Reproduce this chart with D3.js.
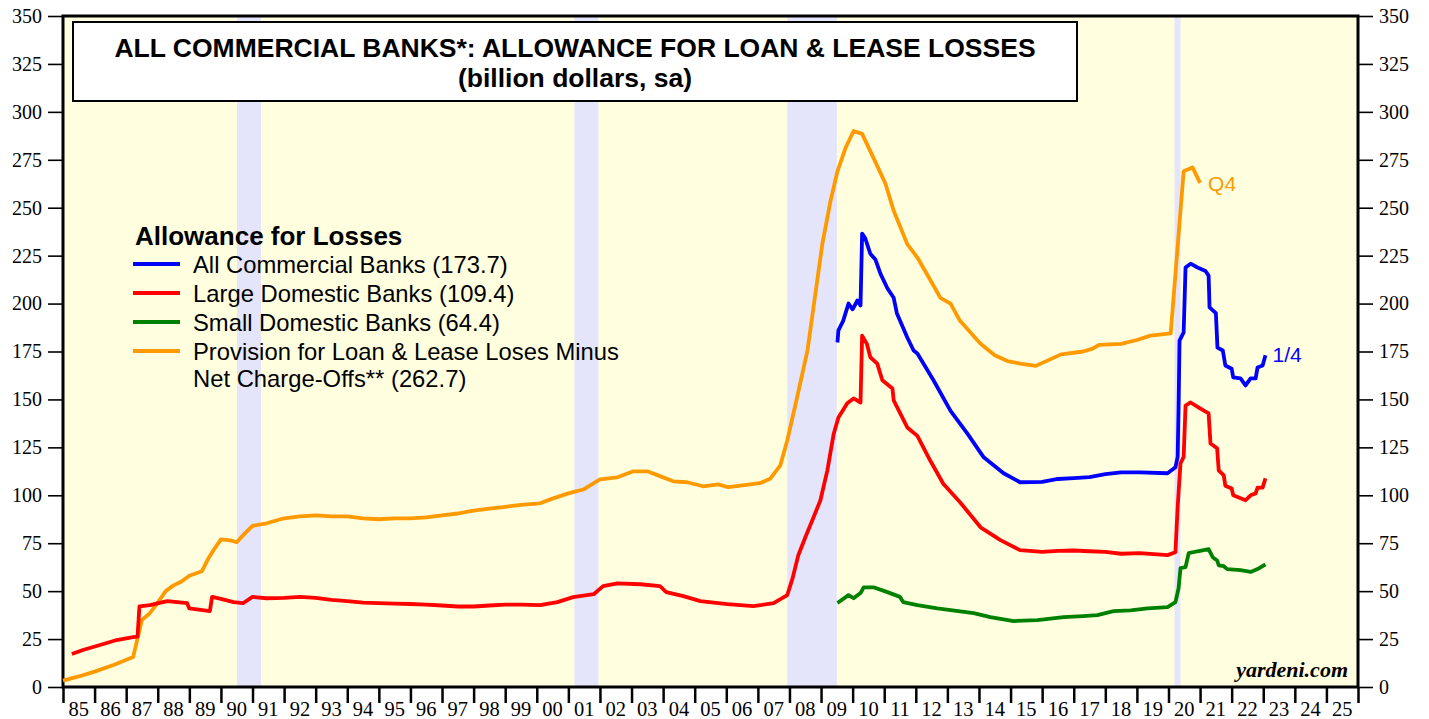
<!DOCTYPE html>
<html>
<head>
<meta charset="utf-8">
<script src="https://cdn.jsdelivr.net/npm/d3@7"></script>
<style>
  body { margin: 0; background: #fff; }
  svg { display: block; }
</style>
</head>
<body>
<svg></svg>
<script>
// data, [decimal year, billion $]
const provision = [[1985.0,3.3],[1985.5,5.5],[1986.0,8],[1986.6,11.5],[1987.22,15.6],[1987.5,35],[1987.75,38.5],[1988.0,44],[1988.25,50],[1988.5,53],[1988.75,55],[1989.0,58],[1989.4,60.4],[1989.6,67],[1989.75,71],[1990.0,77],[1990.3,76.5],[1990.5,75.5],[1990.75,80],[1991.0,84],[1991.45,85.4],[1992.0,88],[1992.5,89],[1993.0,89.5],[1993.5,89],[1994.0,89],[1994.5,88],[1995.0,87.5],[1995.5,88],[1996.0,88],[1996.5,88.5],[1997.0,89.5],[1997.5,90.5],[1998.0,92],[1998.5,93],[1999.0,94],[1999.5,95],[2000.1,95.8],[2000.52,98.4],[2001.0,101],[2001.47,103],[2002.0,108.3],[2002.55,109.4],[2003.06,112.5],[2003.5,112.5],[2003.9,110],[2004.32,107.3],[2004.76,106.8],[2005.27,104.7],[2005.75,105.7],[2006.06,104.2],[2006.76,105.7],[2007.1,106.5],[2007.4,108.8],[2007.71,115.6],[2007.93,128.6],[2008.2,148],[2008.57,175.5],[2008.76,198],[2009.04,231],[2009.3,253.6],[2009.52,269],[2009.77,281],[2010.03,290],[2010.3,288.5],[2010.66,276],[2011.04,262.5],[2011.3,248.4],[2011.73,231],[2012.05,224],[2012.4,214],[2012.78,203],[2013.1,200],[2013.4,191],[2014.05,179],[2014.5,173],[2014.9,170],[2015.3,168.7],[2015.8,167.5],[2016.2,170.5],[2016.6,173.5],[2017.3,175],[2017.6,176.5],[2017.8,178.5],[2018.5,179],[2019.0,181],[2019.43,183.3],[2020.07,184.4],[2020.48,269],[2020.76,271],[2021.0,263]]

const largeBanks = [[1985.28,17.2],[1985.63,19.3],[1986.17,21.9],[1986.7,24.5],[1987.22,26],[1987.36,26.3],[1987.42,42],[1987.75,42.7],[1988.3,44.8],[1988.93,43.7],[1989.0,41],[1989.65,39.6],[1989.72,47],[1990.0,46],[1990.4,44.3],[1990.7,43.7],[1991.0,47],[1991.45,46.3],[1992.0,46.5],[1992.5,47],[1993.0,46.5],[1993.5,45.5],[1994.0,44.8],[1994.5,44],[1995.0,43.8],[1995.5,43.5],[1996.0,43.3],[1996.5,43],[1997.0,42.5],[1997.5,42],[1998.0,42],[1998.5,42.5],[1999.0,43],[1999.5,43],[2000.1,42.7],[2000.65,44.3],[2001.15,46.9],[2001.8,48.4],[2002.1,52.6],[2002.55,54],[2003.28,53.6],[2003.9,52.6],[2004.1,49.5],[2004.64,47.4],[2005.18,44.8],[2006.03,43.2],[2006.86,42.2],[2007.5,43.7],[2007.93,47.9],[2008.1,56.8],[2008.28,68.75],[2008.5,78],[2008.75,88],[2008.98,97.4],[2009.2,113],[2009.4,132],[2009.55,140.6],[2009.83,148],[2010.03,150.5],[2010.25,148.4],[2010.3,183.3],[2010.45,179],[2010.56,172],[2010.78,168.7],[2010.94,160],[2011.26,155.7],[2011.3,149.5],[2011.73,135.4],[2012.05,131],[2012.46,118],[2012.87,106],[2013.4,96.4],[2014.05,83.3],[2014.68,76.6],[2015.3,71.4],[2016.0,70.5],[2016.5,71],[2017.0,71.2],[2017.5,70.8],[2018.0,70.5],[2018.5,69.5],[2019.1,69.8],[2019.97,68.8],[2020.22,70.3],[2020.29,93.8],[2020.38,116.6],[2020.48,120],[2020.54,146.8],[2020.7,148.4],[2021.0,145.3],[2021.27,142.7],[2021.33,127],[2021.54,124.5],[2021.59,113],[2021.75,110.4],[2021.8,105],[2022.0,103.6],[2022.05,100],[2022.44,97.4],[2022.6,100],[2022.76,101],[2022.82,104],[2022.98,104],[2023.07,108.8]]

const allBanks = [[2009.52,179.7],[2009.55,186],[2009.7,191],[2009.87,200],[2010.0,197],[2010.15,201.6],[2010.25,199],[2010.3,236.5],[2010.4,234],[2010.56,226],[2010.72,223],[2010.88,215.6],[2011.1,208],[2011.3,203],[2011.4,195],[2011.73,182.3],[2011.93,175.5],[2012.05,174],[2012.56,160],[2013.1,144],[2013.64,132],[2014.15,119.8],[2014.78,111.5],[2015.3,106.8],[2016.0,107],[2016.5,108.5],[2017.0,109],[2017.5,109.5],[2018.0,111],[2018.5,112],[2019.1,112],[2019.97,111.5],[2020.22,114.6],[2020.29,120],[2020.32,146],[2020.35,180.7],[2020.48,185],[2020.54,218.8],[2020.7,220.8],[2020.92,218.8],[2021.17,217],[2021.27,214.6],[2021.3,198],[2021.5,195],[2021.55,177],[2021.72,175.5],[2021.8,167.7],[2022.0,166],[2022.05,161.5],[2022.28,161],[2022.44,157.3],[2022.6,161],[2022.76,161],[2022.82,166.7],[2022.98,167.7],[2023.07,173]]

const smallBanks = [[2009.52,43.8],[2009.87,47.9],[2010.03,46.3],[2010.25,49],[2010.35,52],[2010.66,52],[2011.1,49.5],[2011.5,47],[2011.6,44.3],[2012.05,42.7],[2012.68,41],[2013.83,38.5],[2014.36,36.5],[2015.1,34.4],[2015.85,34.9],[2016.68,36.5],[2017.3,37],[2017.75,37.5],[2018.26,39.6],[2018.8,40],[2019.34,41],[2019.97,41.7],[2020.22,44.3],[2020.32,51.5],[2020.38,62],[2020.54,62.5],[2020.64,69.8],[2020.92,70.8],[2021.27,71.9],[2021.4,67.7],[2021.54,66],[2021.59,63.5],[2021.75,63],[2021.86,61.5],[2022.28,61],[2022.6,60],[2022.82,61.5],[2023.07,64]]

const recessions = [[1990.51,1991.27],[2001.19,2001.95],[2007.93,2009.5],[2020.19,2020.38]]
const years = d3.range(1985, 2026)
const yTicks = d3.range(0, 351, 25)

const legendItems = [
	{label: ["All Commercial Banks (173.7)"], color: "#0000ff"},
	{label: ["Large Domestic Banks (109.4)"], color: "#ff0000"},
	{label: ["Small Domestic Banks (64.4)"], color: "#008000"},
	{label: ["Provision for Loan & Lease Loses Minus", "Net Charge-Offs** (262.7)"], color: "#ff9900"}
]

var margin = {top: 16, right: 71, bottom: 32, left: 63},
    W = 1429, H = 719,
    width = W - margin.left - margin.right,
    height = H - margin.top - margin.bottom;

var svg = d3.select("svg")
	.attr("width", W)
	.attr("height", H)
	.style("font-family", "'Liberation Sans', Arial, sans-serif")

var x = d3.scaleLinear().domain([1985, 2026]).range([margin.left, margin.left + width])
var y = d3.scaleLinear().domain([0, 350]).range([margin.top + height, margin.top])

// plot background
svg.append("rect")
	.attr("x", x(1985)).attr("y", y(350))
	.attr("width", x(2026) - x(1985)).attr("height", y(0) - y(350))
	.style("fill", "#ffffe0")

svg.append("g")
	.selectAll("rect")
	.data(recessions).enter()
	.append("rect")
	.attr("x", d => x(d[0]))
	.attr("y", y(350))
	.attr("width", d => x(d[1]) - x(d[0]))
	.attr("height", y(0) - y(350))
	.style("fill", "#e4e4fb")

// axes
var yLeft = svg.append("g")
	.attr("transform", "translate(" + x(1985) + ",0)")
	.call(d3.axisLeft(y).tickValues(yTicks).tickSize(15).tickPadding(6))
var yRight = svg.append("g")
	.attr("transform", "translate(" + x(2026) + ",0)")
	.call(d3.axisRight(y).tickValues(yTicks).tickSize(15).tickPadding(6))
;[yLeft, yRight].forEach(g => {
	g.select(".domain").remove()
	g.selectAll(".tick line").attr("stroke", "#000").attr("stroke-width", 1.6)
	g.selectAll(".tick text")
		.style("font-family", "'Liberation Serif', 'Times New Roman', serif")
		.style("font-size", "20px")
		.attr("fill", "#000")
})

var xAxis = svg.append("g")
	.attr("transform", "translate(0," + y(0) + ")")
	.call(d3.axisBottom(x).tickValues(years.concat([2026])).tickSize(16).tickFormat(""))
xAxis.select(".domain").remove()
xAxis.selectAll(".tick line").attr("stroke", "#000").attr("stroke-width", 2.5)

svg.append("g")
	.selectAll("text")
	.data(years).enter()
	.append("text")
	.attr("x", d => x(d + 0.5))
	.attr("y", 716)
	.attr("text-anchor", "middle")
	.style("font-family", "'Liberation Serif', 'Times New Roman', serif")
	.style("font-size", "20.5px")
	.text(d => String(d % 100).padStart(2, "0"))

// frame
svg.append("rect")
	.attr("x", x(1985)).attr("y", y(350))
	.attr("width", x(2026) - x(1985)).attr("height", y(0) - y(350))
	.style("fill", "none").style("stroke", "#000").style("stroke-width", 3)

// lines
var line = d3.line().x(d => x(d[0])).y(d => y(d[1]))
var series = [
	{data: provision, color: "#ff9900"},
	{data: largeBanks, color: "#ff0000"},
	{data: smallBanks, color: "#008000"},
	{data: allBanks, color: "#0000ff"}
]
svg.append("g")
	.selectAll("path")
	.data(series).enter()
	.append("path")
	.attr("d", d => line(d.data))
	.style("fill", "none")
	.style("stroke", d => d.color)
	.style("stroke-width", 3.8)
	.style("stroke-linejoin", "round")

// end labels
var lastP = provision[provision.length - 1], lastA = allBanks[allBanks.length - 1]
svg.append("text").attr("x", x(lastP[0]) + 8).attr("y", y(lastP[1]) + 8)
	.style("font-size", "21px").style("fill", "#ff9900").text("Q4")
svg.append("text").attr("x", x(lastA[0]) + 7).attr("y", y(lastA[1]) + 7)
	.style("font-size", "21px").style("fill", "#0000ff").text("1/4")

// title box
svg.append("rect")
	.attr("x", 73).attr("y", 22).attr("width", 1004).attr("height", 79)
	.style("fill", "#fff").style("stroke", "#000").style("stroke-width", 2)
svg.append("text").attr("x", 575).attr("y", 57).attr("text-anchor", "middle")
	.style("font-size", "26.5px").style("font-weight", "bold")
	.text("ALL COMMERCIAL BANKS*: ALLOWANCE FOR LOAN & LEASE LOSSES")
svg.append("text").attr("x", 575).attr("y", 87).attr("text-anchor", "middle")
	.style("font-size", "26.5px").style("font-weight", "bold")
	.text("(billion dollars, sa)")

// legend
var legend = svg.append("g")
legend.append("text").attr("x", 135).attr("y", 245)
	.style("font-size", "26px").style("font-weight", "bold")
	.text("Allowance for Losses")
legendItems.forEach((item, i) => {
	var yy = 264 + i * 29
	legend.append("line")
		.attr("x1", 133).attr("x2", 180).attr("y1", yy).attr("y2", yy)
		.style("stroke", item.color).style("stroke-width", 4)
	item.label.forEach((t, j) => {
		legend.append("text").attr("x", 193).attr("y", yy + 9 + j * 27)
			.style("font-size", "23.8px").text(t)
	})
})

svg.append("text").attr("x", 1348).attr("y", 677).attr("text-anchor", "end")
	.style("font-family", "'Liberation Serif', 'Times New Roman', serif")
	.style("font-size", "22px").style("font-weight", "bold").style("font-style", "italic")
	.text("yardeni.com")
</script>
</body>
</html>
